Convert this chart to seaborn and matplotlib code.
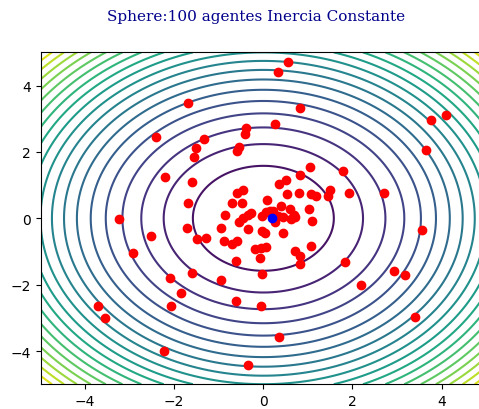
import numpy as np
import pandas as pd
import matplotlib
matplotlib.use("Agg")
import matplotlib.pyplot as plt
import seaborn as sns

title = "Sphere:100 agentes Inercia Constante"

agents_x = [-1.69, -2.40, -1.33, -1.51, -1.55, -0.39, -0.42, -0.55, -0.60, -2.20,
            -1.59, -1.69, -3.24, -0.46, -0.58, -0.70, -0.48, -0.86, 0.55, 0.32,
            0.82, 0.27, 4.09, 3.77, 3.65, 1.04, 1.79, 0.82, 0.50, 0.35,
            0.52, 0.79, 1.06, 1.19, 1.50, 1.45, 1.92, 2.70, 0.09, 0.39,
            0.59, 1.02, 0.69, 0.61, 1.09, 3.56, -1.72, -2.53, -1.49, -1.29,
            -0.94, -0.88, -0.70, -0.58, -2.92, -0.62, -1.61, -2.09, -0.95, -1.84,
            -2.08, -0.62, -3.72, -3.55, -2.22, -0.34, 1.83, 2.94, 3.18, 2.18,
            3.40, -0.05, 0.35, -0.02, 1.08, 0.82, 0.82, 0.72, 0.44, -0.08,
            -0.18, -0.05, 0.07, -0.04, 0.03, -0.55, -0.46, -0.34, -0.27, -0.34,
            -0.04, 0.07, 0.22, 0.33, 0.44, 0.26, 0.70, 0.16]
agents_y = [3.48, 2.46, 2.38, 2.12, 1.84, 2.72, 2.53, 2.16, 2.04, 1.25,
            1.10, 0.46, -0.03, 0.86, 0.76, 0.46, 0.46, 0.09, 4.72, 4.40,
            3.32, 2.85, 3.12, 2.96, 2.07, 1.55, 1.44, 1.31, 1.16, 1.02,
            0.73, 0.75, 0.73, 0.67, 0.85, 0.67, 0.75, 0.75, 0.56, 0.38,
            0.27, 0.27, 0.10, -0.03, -0.08, -0.36, -0.30, -0.54, -0.63, -0.60,
            -0.30, -0.69, -0.77, -0.69, -1.04, -1.28, -1.64, -1.81, -1.86, -2.26,
            -2.64, -2.48, -2.64, -3.01, -4.00, -4.41, -1.31, -1.58, -1.70, -2.02,
            -2.98, -2.65, -3.59, -1.69, -0.84, -1.39, -1.15, -0.98, -0.44, -1.21,
            -0.93, -0.91, -0.87, -0.37, -0.44, -0.12, 0.00, 0.10, 0.16, -0.32,
            0.08, 0.18, 0.23, 0.08, 0.03, -0.10, 0.03, 0.21]
best_x = [0.20]
best_y = [0.01]

fig = plt.figure(figsize=(4.79, 4.10), dpi=100)
ax = fig.add_axes([40.5 / 479, 1 - 385.2 / 410, 445.7 / 479, 331.8 / 410])

g = np.linspace(-5, 5, 300)
X, Y = np.meshgrid(g, g)
Z = X ** 2 + Y ** 2
ax.contour(X, Y, Z, levels=20, cmap="viridis", linewidths=1.5)

df = pd.DataFrame({"x": agents_x, "y": agents_y})
sns.scatterplot(data=df, x="x", y="y", color="red", s=36, linewidth=1,
                edgecolor="red", ax=ax, zorder=3)
sns.scatterplot(x=best_x, y=best_y, color="blue", s=36, linewidth=1,
                edgecolor="blue", ax=ax, zorder=4)

ax.set_xlim(-5, 5)
ax.set_ylim(-5, 5)
ax.set_xticks([-4, -2, 0, 2, 4])
ax.set_yticks([-4, -2, 0, 2, 4])
ax.set_xlabel("")
ax.set_ylabel("")

fig.text(256.5 / 479, 1 - 17 / 410, title, ha="center", va="center",
         fontsize=11, family="DejaVu Serif", color="darkblue")

fig.savefig("out.png", dpi=100)
